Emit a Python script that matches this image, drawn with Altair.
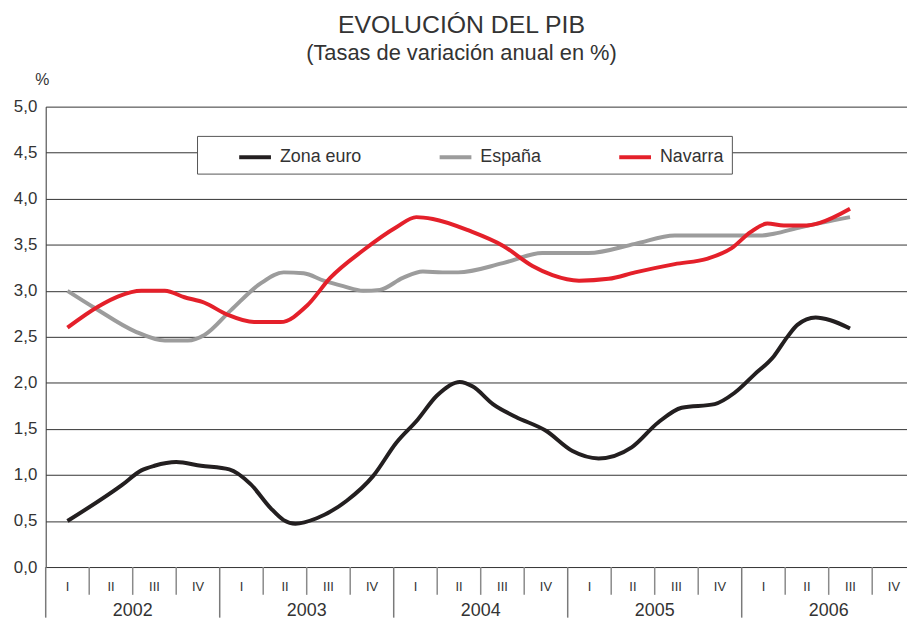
import altair as alt
import pandas as pd

# ---- data (t = quarter index, 0 = 2002-I) ----
euro_t = [0, 1.25, 1.70, 2.0, 2.5, 3.07, 3.72, 4.21, 4.67, 4.97, 5.24, 5.73, 6.42, 7.03, 7.56,
          8.05, 8.49, 9.02, 9.32, 9.78, 10.31, 11.0, 11.61, 12.21, 12.97, 13.58, 14.12, 14.88,
          15.33, 15.79, 16.24, 16.55, 16.78, 17.2, 17.54, 17.99]
euro_v = [0.50, 0.89, 1.05, 1.10, 1.14, 1.10, 1.06, 0.90, 0.64, 0.51, 0.47, 0.53, 0.72, 0.99, 1.35,
          1.60, 1.86, 2.01, 1.96, 1.77, 1.63, 1.48, 1.26, 1.18, 1.30, 1.57, 1.73, 1.77,
          1.89, 2.09, 2.29, 2.50, 2.63, 2.71, 2.68, 2.59]

esp_t = [0, 0.64, 1.55, 2.24, 2.77, 3.15, 3.76, 4.44, 4.97, 5.43, 5.89, 6.34, 6.80, 7.18, 7.71,
         8.17, 8.62, 8.98, 10.01, 10.92, 11.98, 13.05, 13.96, 15.94, 16.24, 16.85, 17.99]
esp_v = [3.00, 2.81, 2.56, 2.46, 2.46, 2.52, 2.79, 3.08, 3.20, 3.19, 3.11, 3.05, 3.00, 3.01, 3.14,
         3.21, 3.20, 3.20, 3.30, 3.41, 3.41, 3.51, 3.60, 3.60, 3.62, 3.69, 3.80]

nav_t = [0, 0.71, 1.17, 1.70, 2.24, 2.69, 3.15, 3.68, 4.29, 4.90, 5.51, 6.04, 6.80, 7.56, 8.02,
         8.40, 9.25, 10.01, 10.69, 11.15, 11.76, 12.44, 13.05, 13.96, 14.72, 15.26, 15.71,
         16.09, 16.47, 17.0, 17.31, 17.99]
nav_v = [2.60, 2.83, 2.94, 3.00, 3.00, 2.93, 2.87, 2.74, 2.66, 2.66, 2.84, 3.14, 3.44, 3.69, 3.80,
         3.78, 3.65, 3.49, 3.27, 3.17, 3.11, 3.13, 3.20, 3.29, 3.35, 3.46, 3.64,
         3.73, 3.71, 3.71, 3.74, 3.89]

series_names = ["Zona euro", "España", "Navarra"]
series_colors = ["#231f20", "#9c9c9c", "#e4202a"]

quarter_labels = ["I", "II", "III", "IV"]
years = ["2002", "2003", "2004", "2005", "2006"]
y_ticks = [0, 0.5, 1, 1.5, 2, 2.5, 3, 3.5, 4, 4.5, 5]

FONT = "Liberation Sans"
TXT = "#333333"

rows = []
for name, ts, vs in [(series_names[0], euro_t, euro_v),
                     (series_names[1], esp_t, esp_v),
                     (series_names[2], nav_t, nav_v)]:
    for t, v in zip(ts, vs):
        rows.append({"serie": name, "t": t, "v": v})
df = pd.DataFrame(rows)

q_df = pd.DataFrame({"t": list(range(20)), "label": quarter_labels * 5})
qsep_df = pd.DataFrame({"t": [i + 0.5 for i in range(19) if (i + 1) % 4 != 0]})
ysep_df = pd.DataFrame({"t": [-0.5 + 4 * i for i in range(5)]})
ylab_df = pd.DataFrame({"t": [1.5 + 4 * i for i in range(5)], "label": years})
box_df = pd.DataFrame({"k": [0]})

xscale = alt.Scale(domain=[-0.5, 19.3], nice=False, zero=False)
yscale = alt.Scale(domain=[0, 5], nice=False, zero=True)

box = alt.Chart(box_df).mark_rect(fill="white", stroke="#555555", strokeWidth=1).encode(
    x=alt.value(153), x2=alt.value(692), y=alt.value(30), y2=alt.value(68)
)

lines = alt.Chart(df).mark_line(strokeWidth=4, interpolate="monotone").encode(
    x=alt.X("t:Q", scale=xscale, axis=None),
    y=alt.Y("v:Q", scale=yscale,
            axis=alt.Axis(values=y_ticks, grid=True, gridColor="#333333", gridWidth=1,
                          ticks=False, domain=True, domainColor="#333333", domainWidth=1,
                          labelExpr="replace(format(datum.value, '.1f'), '.', ',')",
                          labelFont=FONT, labelFontSize=17, labelColor=TXT, labelPadding=9,
                          title="%", titleAngle=0, titleX=-4, titleY=-27,
                          titleAlign="center", titleBaseline="middle",
                          titleFont=FONT, titleFontSize=16, titleFontWeight="normal",
                          titleColor=TXT)),
    color=alt.Color("serie:N", sort=series_names,
                    scale=alt.Scale(domain=series_names, range=series_colors),
                    legend=alt.Legend(title=None, orient="none", legendX=193, legendY=33,
                                      direction="horizontal", symbolType="stroke",
                                      symbolSize=1024, symbolStrokeWidth=4,
                                      labelFont=FONT, labelFontSize=18, labelColor=TXT,
                                      labelOffset=7, columnPadding=70, padding=0)),
    order=alt.Order("t:Q"),
)

qsep = alt.Chart(qsep_df).mark_rule(color="#8a8a8a", strokeWidth=1.5).encode(
    x=alt.X("t:Q", scale=xscale, axis=None), y=alt.value(464), y2=alt.value(492)
)
ysep = alt.Chart(ysep_df).mark_rule(color="#7a7a7a", strokeWidth=1.5).encode(
    x=alt.X("t:Q", scale=xscale, axis=None), y=alt.value(464), y2=alt.value(515)
)
qtext = alt.Chart(q_df).mark_text(font=FONT, fontSize=13, color=TXT, baseline="middle").encode(
    x=alt.X("t:Q", scale=xscale, axis=None), y=alt.value(484), text="label:N"
)
ytext = alt.Chart(ylab_df).mark_text(font=FONT, fontSize=18, color=TXT, baseline="middle").encode(
    x=alt.X("t:Q", scale=xscale, axis=None), y=alt.value(508), text="label:N"
)

chart = alt.layer(box, lines, qsep, ysep, qtext, ytext).properties(
    width=868, height=464,
    autosize=alt.AutoSizeParams(type="none"),
    padding={"left": 38, "top": 97, "right": 0, "bottom": 56},
    title=alt.TitleParams(text="EVOLUCIÓN DEL PIB", subtitle="(Tasas de variación anual en %)",
                          anchor="middle", frame="group", dx=-15, offset=8,
                          font=FONT, fontSize=25, fontWeight="normal", color=TXT,
                          subtitleFont=FONT, subtitleFontSize=22, subtitleFontWeight="normal",
                          subtitleColor=TXT, subtitlePadding=5),
).configure_view(stroke=None)

chart.save("out.html", embed_options={"renderer": "svg", "actions": False})
